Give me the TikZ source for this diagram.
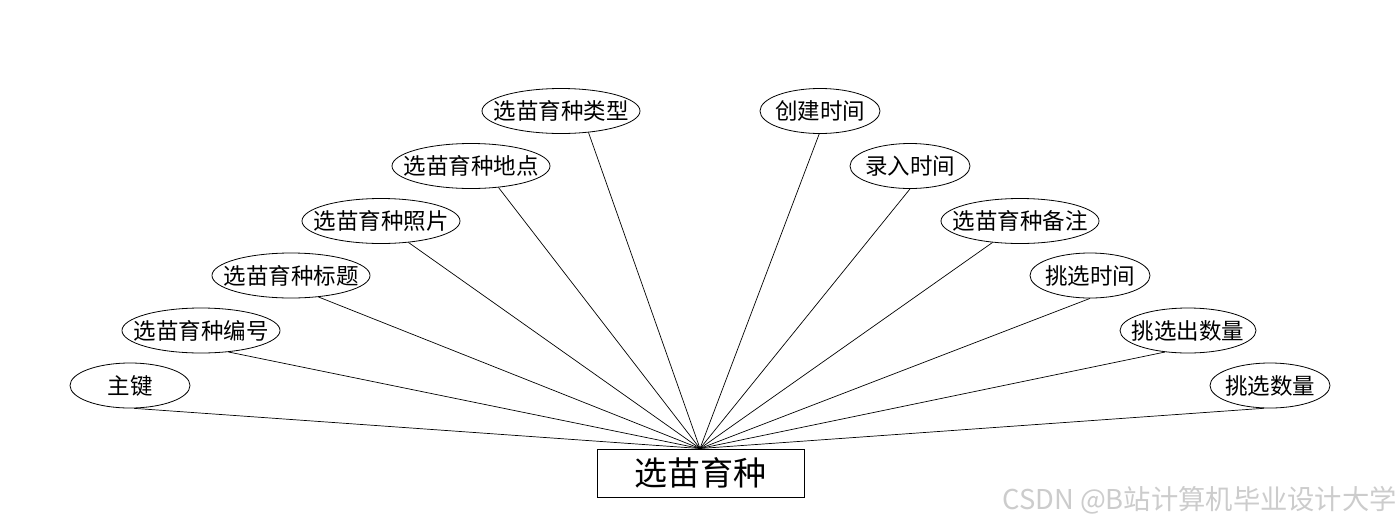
\documentclass[tikz,border=0pt]{standalone}
\usepackage{fontspec}
\setmainfont{Noto Sans CJK SC}
\newfontfamily\wmfont{Noto Sans CJK SC}
\usetikzlibrary{shapes.geometric}
\begin{document}
\begin{tikzpicture}[x=1pt,y=-1pt,
  attr/.style={draw,ellipse,line width=0.8pt,inner sep=0pt,minimum height=45pt,
    label={[inner sep=0pt,font=\fontsize{22.5}{26}\selectfont]center:#1}},
  attrA/.style={attr={#1},minimum width=120pt},
  attrB/.style={attr={#1},minimum width=158pt},
  attrC/.style={attr={#1},minimum width=136pt},
  ent/.style={draw,rectangle,line width=0.8pt,minimum width=207pt,minimum height=48pt,inner sep=0pt,font=\fontsize{33}{36}\selectfont},
  link/.style={line width=0.7pt}]
\useasboundingbox (0,0) rectangle (1400,528);
\fill[white] (0,0) rectangle (1400,528);
\node[ent] (E) at (700.5,473) {选苗育种};
\coordinate (T) at (700,448.5);
% left
\node[attrA=主键] (a1) at (130,385.5) {};
\node[attrB=选苗育种编号] (a2) at (201,330.5) {};
\node[attrB=选苗育种标题] (a3) at (291,275.5) {};
\node[attrB=选苗育种照片] (a4) at (381,221) {};
\node[attrB=选苗育种地点] (a5) at (471,166) {};
\node[attrB=选苗育种类型] (a6) at (561,111) {};
% right
\node[attrA=创建时间] (b1) at (820,111) {};
\node[attrA=录入时间] (b2) at (910,166) {};
\node[attrB=选苗育种备注] (b3) at (1020,221) {};
\node[attrA=挑选时间] (b4) at (1090,275.5) {};
\node[attrC=挑选出数量] (b5) at (1188,330.5) {};
\node[attrA=挑选数量] (b6) at (1270,385.5) {};
% links
\draw[link] (a1.-80) -- (T);
\draw[link] (a2.-38) -- (T);
\draw[link] (a3.-38) -- (T);
\draw[link] (a4.-38) -- (T);
\draw[link] (a5.-38) -- (T);
\draw[link] (a6.-38) -- (T);
\draw[link] (b1.-92) -- (T);
\draw[link] (b2.-90) -- (T);
\draw[link] (b3.-142) -- (T);
\draw[link] (b4.-90) -- (T);
\draw[link] (b5.-137) -- (T);
\draw[link] (b6.-105) -- (T);
% watermark
\node[anchor=east,inner sep=0pt,text=black!20,font=\wmfont\fontsize{27.3}{29}\selectfont] (wm) at (1397,500) {CSDN @B站计算机毕业设计大学};
\end{tikzpicture}
\end{document}
